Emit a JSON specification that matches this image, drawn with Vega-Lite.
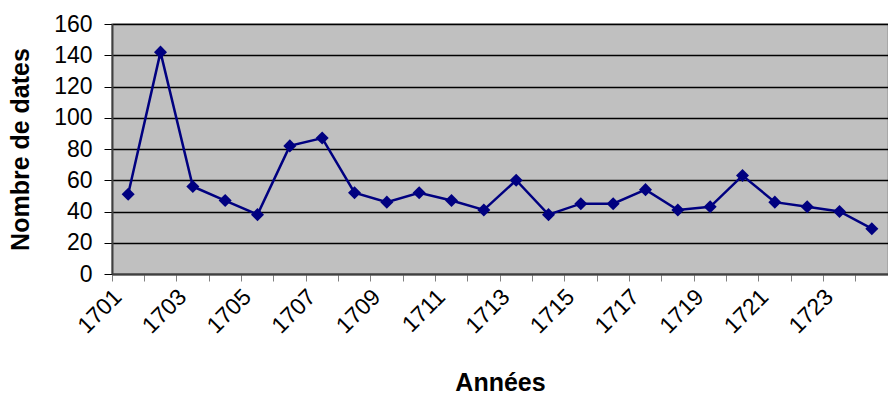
{
  "$schema": "https://vega.github.io/schema/vega-lite/v6.json",
  "autosize": "none",
  "width": 776,
  "height": 250,
  "padding": {"left": 112, "top": 24, "right": 0, "bottom": 127},
  "background": "white",
  "config": {
    "font": "Liberation Sans",
    "view": {"fill": "#C0C0C0", "stroke": "#A0A0A0", "strokeWidth": 1.5}
  },
  "data": {
    "values": [
      {"annee": 1701, "n": 51},
      {"annee": 1702, "n": 142},
      {"annee": 1703, "n": 56},
      {"annee": 1704, "n": 47},
      {"annee": 1705, "n": 38},
      {"annee": 1706, "n": 82},
      {"annee": 1707, "n": 87},
      {"annee": 1708, "n": 52},
      {"annee": 1709, "n": 46},
      {"annee": 1710, "n": 52},
      {"annee": 1711, "n": 47},
      {"annee": 1712, "n": 41},
      {"annee": 1713, "n": 60},
      {"annee": 1714, "n": 38},
      {"annee": 1715, "n": 45},
      {"annee": 1716, "n": 45},
      {"annee": 1717, "n": 54},
      {"annee": 1718, "n": 41},
      {"annee": 1719, "n": 43},
      {"annee": 1720, "n": 63},
      {"annee": 1721, "n": 46},
      {"annee": 1722, "n": 43},
      {"annee": 1723, "n": 40},
      {"annee": 1724, "n": 29}
    ]
  },
  "encoding": {
    "x": {
      "field": "annee",
      "type": "ordinal",
      "scale": {"type": "band", "paddingInner": 0, "paddingOuter": 0},
      "axis": {
        "title": "Années",
        "titleFontSize": 25,
        "titleFontWeight": "bold",
        "titleColor": "black",
        "titlePadding": 33,
        "bandPosition": 0,
        "labelAngle": -45,
        "labelAlign": "right",
        "labelBaseline": "middle",
        "labelFontSize": 23,
        "labelColor": "black",
        "labelPadding": 12,
        "labelOffset": -10,
        "labelExpr": "datum.value % 2 == 1 ? datum.label : ''",
        "labelOverlap": false,
        "tickSize": 7,
        "tickColor": "#808080",
        "domainColor": "#404040",
        "domainWidth": 2,
        "grid": false
      }
    },
    "y": {
      "field": "n",
      "type": "quantitative",
      "scale": {"domain": [0, 160], "nice": false},
      "axis": {
        "title": "Nombre de dates",
        "titleFontSize": 25,
        "titleFontWeight": "bold",
        "titleColor": "black",
        "titlePadding": 20,
        "values": [0, 20, 40, 60, 80, 100, 120, 140, 160],
        "labelFontSize": 23,
        "labelColor": "black",
        "labelPadding": 12,
        "tickSize": 8,
        "tickColor": "black",
        "domainColor": "#404040",
        "domainWidth": 2,
        "grid": true,
        "gridColor": "black",
        "gridWidth": 1.5,
        "gridOpacity": 1
      }
    }
  },
  "layer": [
    {"mark": {"type": "line", "color": "#000080", "strokeWidth": 2.5}},
    {"mark": {"type": "point", "shape": "diamond", "filled": true, "color": "#000080", "opacity": 1, "size": 170}}
  ]
}
